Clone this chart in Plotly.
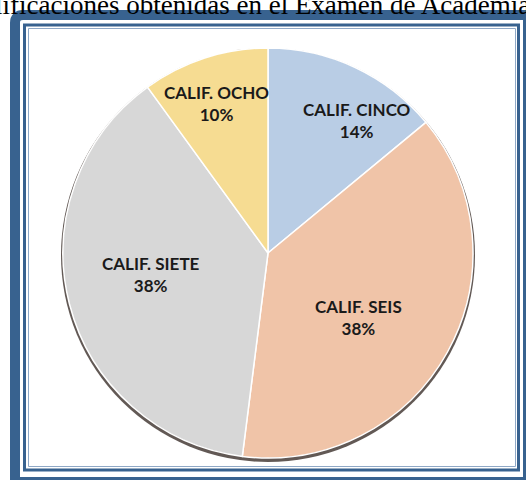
import math
import plotly.graph_objects as go

# Grade distribution from the academy exam
categories = ["CALIF. CINCO", "CALIF. SEIS", "CALIF. SIETE", "CALIF. OCHO"]
percentages = [14, 38, 38, 10]
slice_colors = ["#B9CDE5", "#F0C4A8", "#D7D7D7", "#F6DC92"]
title_text = "Calificaciones obtenidas en el Examen de Academia"

W, H = 526, 480
FRAME_BLUE = "#38628F"
PIE_CX, PIE_CY, PIE_R = 268, 253, 205


def px(x):
    return x / W


def py(y):
    return 1 - y / H


fig = go.Figure()

fig.add_trace(go.Pie(
    labels=categories,
    values=percentages,
    sort=False,
    direction="clockwise",
    rotation=0,
    marker=dict(colors=slice_colors, line=dict(color="white", width=1.5)),
    textinfo="none",
    hoverinfo="label+percent",
    showlegend=False,
    domain=dict(x=[px(PIE_CX - PIE_R), px(PIE_CX + PIE_R)],
                y=[py(PIE_CY + PIE_R), py(PIE_CY - PIE_R)]),
))

# label placement: (angle nudge in degrees, fraction of radius) per slice
label_place = [(8.6, 0.78), (6.6, 0.54), (3.8, 0.58), (-0.9, 0.77)]

annotations = []
total = sum(percentages)
start = 0.0
for name, pct, (nudge, frac) in zip(categories, percentages, label_place):
    span = 360.0 * pct / total
    theta = math.radians(start + span / 2 + nudge)
    start += span
    lx = PIE_CX + frac * PIE_R * math.sin(theta)
    ly = PIE_CY - frac * PIE_R * math.cos(theta)
    annotations.append(dict(
        text=f"{name}<br>{pct / total * 100:.0f}%",
        xref="paper", yref="paper", x=px(lx), y=py(ly),
        xanchor="center", yanchor="middle", showarrow=False,
        font=dict(family="Lato", size=17, color="#1a1a1a", weight="bold"),
    ))

annotations.append(dict(
    text=title_text, xref="paper", yref="paper",
    x=px(-37), y=py(12), xanchor="left", yanchor="bottom",
    showarrow=False, yshift=-10,
    font=dict(family="Liberation Serif", size=27, color="black"),
))

shapes = []

# soft dark rim behind the pie
cx, cy, r = PIE_CX, PIE_CY + 2, PIE_R + 2
shapes.append(dict(type="circle", xref="paper", yref="paper",
                   x0=px(cx - r), x1=px(cx + r), y0=py(cy + r), y1=py(cy - r),
                   fillcolor="rgba(70,60,55,0.85)", line=dict(width=0), layer="below"))

# outer frame band with rounded corner
outer = (f"M {px(15)},{py(490)} L {px(15)},{py(23)} "
         f"Q {px(15)},{py(15)} {px(23)},{py(15)} "
         f"L {px(528)},{py(15)} L {px(528)},{py(482)} L {px(15)},{py(482)} Z")
shapes.append(dict(type="path", xref="paper", yref="paper", path=outer,
                   line=dict(color=FRAME_BLUE, width=10), layer="above"))

# inner double line
shapes.append(dict(type="rect", xref="paper", yref="paper",
                   x0=px(24.5), x1=px(518.5), y0=py(470), y1=py(25),
                   line=dict(color=FRAME_BLUE, width=3), layer="above"))
shapes.append(dict(type="rect", xref="paper", yref="paper",
                   x0=px(28.5), x1=px(515.5), y0=py(466.5), y1=py(28.5),
                   line=dict(color="#8FA8C6", width=1), layer="above"))

fig.update_layout(
    width=W, height=H,
    margin=dict(l=0, r=0, t=0, b=0),
    paper_bgcolor="white",
    plot_bgcolor="white",
    shapes=shapes,
    annotations=annotations,
)

fig.write_html("out.html")
